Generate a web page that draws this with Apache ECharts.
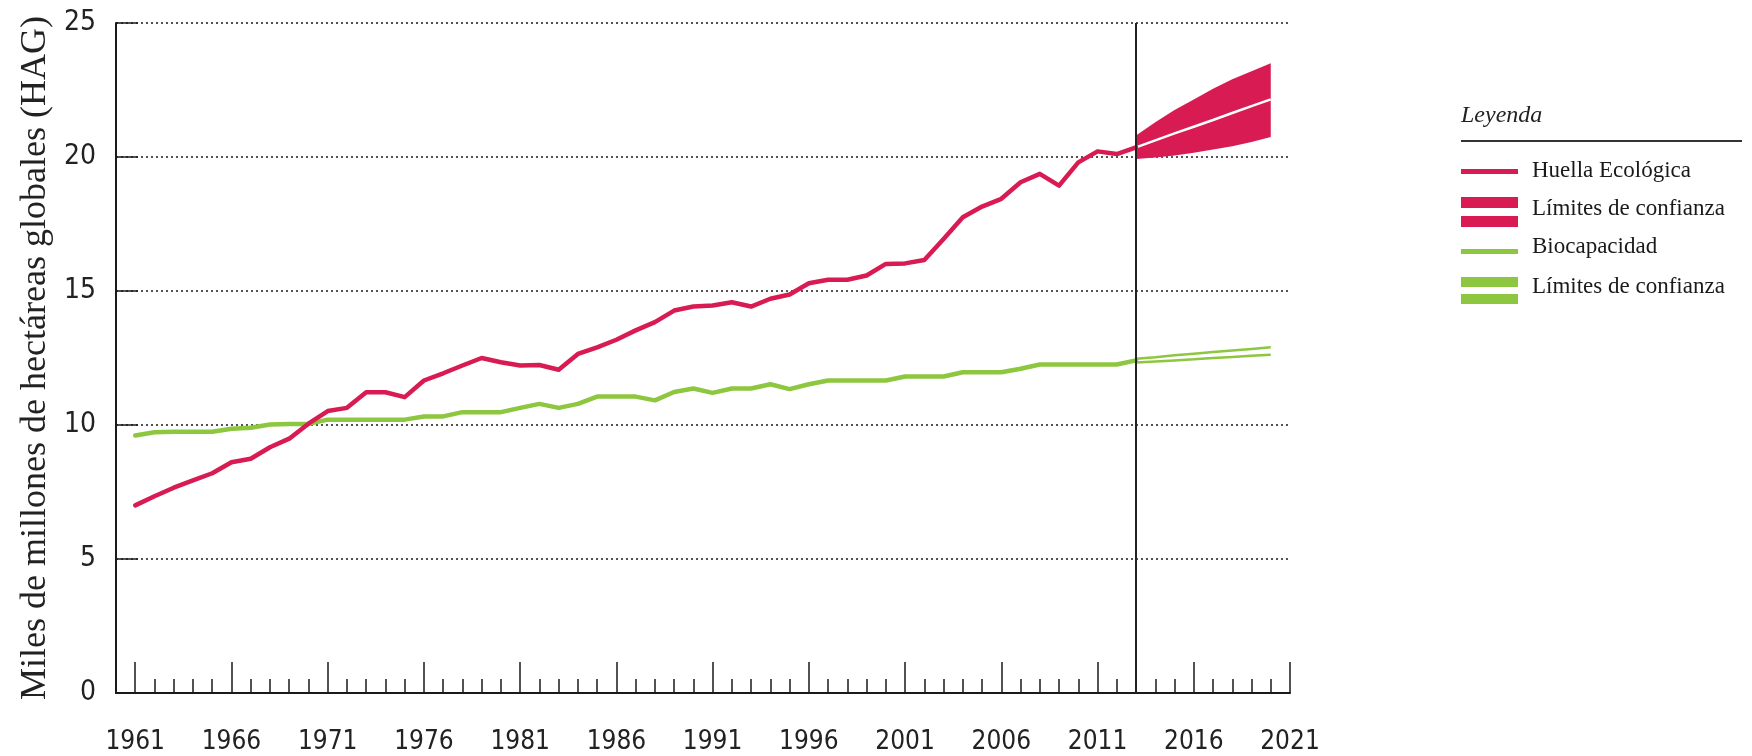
<!DOCTYPE html>
<html><head><meta charset="utf-8">
<script src="https://cdn.jsdelivr.net/npm/echarts@6/dist/echarts.min.js"></script>
<style>html,body{margin:0;padding:0;background:#fff}#c{width:1752px;height:756px}</style>
</head><body><div id="c"></div>
<script>
// Axis categories (years) and tick labels
const categories = ['1960','1961','1962','1963','1964','1965','1966','1967','1968','1969','1970','1971','1972','1973','1974','1975','1976','1977','1978','1979','1980','1981','1982','1983','1984','1985','1986','1987','1988','1989','1990','1991','1992','1993','1994','1995','1996','1997','1998','1999','2000','2001','2002','2003','2004','2005','2006','2007','2008','2009','2010','2011','2012','2013','2014','2015','2016','2017','2018','2019','2020','2021'];
const labelYears = ['1961','1966','1971','1976','1981','1986','1991','1996','2001','2006','2011','2016','2021'];
const histYears = categories.slice(1, 54); // 1961..2013
const projYears = ['2013','2014','2015','2016','2017','2018','2019','2020'];

// Huella Ecológica (miles de millones de hag)
const footprint = [7.0,7.34,7.66,7.93,8.2,8.61,8.74,9.17,9.49,10.05,
  10.52,10.64,11.22,11.22,11.04,11.66,11.93,12.22,12.5,12.34,
  12.22,12.24,12.06,12.65,12.9,13.18,13.53,13.84,14.27,14.42,
  14.46,14.58,14.42,14.71,14.87,15.29,15.42,15.42,15.58,16.01,
  16.03,16.16,16.94,17.75,18.15,18.44,19.06,19.37,18.93,19.8,
  20.21,20.11,20.36];
// Biocapacidad
const biocap = [9.61,9.73,9.75,9.75,9.75,9.86,9.9,10.02,10.04,10.04,
  10.2,10.2,10.2,10.2,10.2,10.32,10.32,10.48,10.48,10.48,
  10.64,10.79,10.64,10.79,11.06,11.06,11.06,10.92,11.23,11.36,
  11.2,11.36,11.36,11.52,11.34,11.52,11.66,11.66,11.66,11.66,
  11.81,11.81,11.81,11.97,11.97,11.97,12.1,12.26,12.26,12.26,
  12.26,12.26,12.41];
// Proyecciones 2013-2020
const fpCenter = [20.36,20.62,20.88,21.13,21.38,21.64,21.9,22.15];
const fpUpper  = [20.8,21.3,21.75,22.15,22.55,22.9,23.2,23.5];
const fpLower  = [19.93,19.98,20.06,20.16,20.28,20.4,20.56,20.75];
const bcUpper  = [12.47,12.53,12.6,12.66,12.72,12.78,12.84,12.9];
const bcLower  = [12.33,12.37,12.41,12.45,12.5,12.54,12.58,12.62];

const PINK = '#D81B52', GREEN = '#8DC63F', INK = '#1a1a1a';
const NUM_FONT = '"Liberation Sans Narrow","Arial Narrow","DejaVu Sans Condensed",sans-serif';
const SERIF = '"Liberation Serif","DejaVu Serif",serif';
const pairs = (xs, ys) => xs.map((x, i) => [x, ys[i]]);
const isMajor = (idx, val) => labelYears.indexOf(String(val)) >= 0;

const chart = echarts.init(document.getElementById('c'), null, {renderer: 'canvas'});
chart.setOption({
  animation: false,
  backgroundColor: '#fff',
  grid: {left: 116, right: 462, top: 23, bottom: 63},
  xAxis: [{
    type: 'category', data: categories, boundaryGap: false,
    axisLine: {show: true, lineStyle: {color: INK, width: 2}},
    axisTick: {show: true, inside: true, length: 14, interval: 0, lineStyle: {color: INK, width: 1.5}},
    axisLabel: {show: false}, splitLine: {show: false}
  }, {
    type: 'category', data: categories, boundaryGap: false, position: 'bottom',
    axisLine: {show: false},
    axisTick: {show: true, inside: true, length: 31, interval: isMajor, lineStyle: {color: INK, width: 1.5}},
    axisLabel: {show: true, interval: isMajor, color: '#222', fontFamily: NUM_FONT, fontSize: 26, margin: 36},
    splitLine: {show: false}
  }],
  yAxis: {
    type: 'value', min: 0, max: 25, interval: 5,
    name: 'Miles de millones de hectáreas globales (HAG)',
    nameLocation: 'middle', nameGap: 60, nameRotate: 90,
    nameTextStyle: {fontFamily: SERIF, fontSize: 36, color: '#222'},
    axisLine: {show: true, lineStyle: {color: INK, width: 2}},
    axisTick: {show: true, inside: true, length: 22, lineStyle: {color: INK, width: 1.5}},
    axisLabel: {color: '#222', fontFamily: NUM_FONT, fontSize: 28, margin: 20},
    splitLine: {show: true, lineStyle: {color: INK, width: 1.5, type: [2, 3]}}
  },
  series: [
    {type: 'line', name: 'fpLower', data: pairs(projYears, fpLower), stack: 'fp', symbol: 'none',
     lineStyle: {width: 0, opacity: 0}, z: 3},
    {type: 'line', name: 'fpBand', data: pairs(projYears, fpUpper.map((u, i) => u - fpLower[i])), stack: 'fp', symbol: 'none',
     lineStyle: {width: 0, opacity: 0}, areaStyle: {color: PINK, opacity: 1}, z: 3},
    {type: 'line', name: 'fpCenter', data: pairs(projYears, fpCenter), symbol: 'none',
     lineStyle: {color: '#fff', width: 2.5}, z: 4},
    {type: 'line', name: 'bcUpper', data: pairs(projYears, bcUpper), symbol: 'none',
     lineStyle: {color: GREEN, width: 2.5}, z: 4},
    {type: 'line', name: 'bcLower', data: pairs(projYears, bcLower), symbol: 'none',
     lineStyle: {color: GREEN, width: 2.5}, z: 4},
    {type: 'line', name: 'Biocapacidad', data: pairs(histYears, biocap), symbol: 'none',
     lineStyle: {color: GREEN, width: 4.5, join: 'round', cap: 'round'}, z: 5},
    {type: 'line', name: 'Huella Ecológica', data: pairs(histYears, footprint), symbol: 'none',
     lineStyle: {color: PINK, width: 4.5, join: 'round', cap: 'round'}, z: 6,
     markLine: {silent: true, symbol: 'none', label: {show: false}, z: 10,
       lineStyle: {color: '#222', width: 2, type: 'solid'},
       data: [{xAxis: '2013'}]}}
  ],
  graphic: [
    {type: 'text', left: 1461, top: 104, style: {text: 'Leyenda', font: 'italic 24px ' + SERIF, fill: '#222'}},
    {type: 'rect', shape: {x: 1461, y: 140, width: 281, height: 2}, style: {fill: '#333'}},
    {type: 'rect', shape: {x: 1461, y: 169, width: 57, height: 5}, style: {fill: PINK}},
    {type: 'text', left: 1532, top: 159, style: {text: 'Huella Ecológica', font: '23px ' + SERIF, fill: '#1a1a1a'}},
    {type: 'rect', shape: {x: 1461, y: 197, width: 57, height: 11}, style: {fill: PINK}},
    {type: 'rect', shape: {x: 1461, y: 216, width: 57, height: 11}, style: {fill: PINK}},
    {type: 'text', left: 1532, top: 197, style: {text: 'Límites de confianza', font: '23px ' + SERIF, fill: '#1a1a1a'}},
    {type: 'rect', shape: {x: 1461, y: 249, width: 57, height: 5}, style: {fill: GREEN}},
    {type: 'text', left: 1532, top: 235, style: {text: 'Biocapacidad', font: '23px ' + SERIF, fill: '#1a1a1a'}},
    {type: 'rect', shape: {x: 1461, y: 277, width: 57, height: 10}, style: {fill: GREEN}},
    {type: 'rect', shape: {x: 1461, y: 294, width: 57, height: 10}, style: {fill: GREEN}},
    {type: 'text', left: 1532, top: 275, style: {text: 'Límites de confianza', font: '23px ' + SERIF, fill: '#1a1a1a'}}
  ]
});
</script></body></html>
